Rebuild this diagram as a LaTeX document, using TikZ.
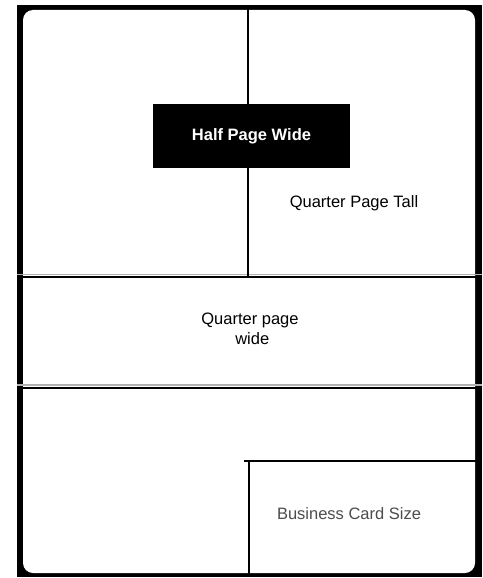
\documentclass[tikz,border=0pt]{standalone}
\usepackage{fontspec}
\setmainfont{Liberation Sans}
\begin{document}
\begin{tikzpicture}[x=1pt,y=-1pt,
  divider/.style={black,line width=2pt},
  label/.style={font=\fontsize{16.5}{19.5}\selectfont,align=center,inner sep=0pt}]
\useasboundingbox (0,0) rectangle (482,578);
\fill[white] (0,0) rectangle (482,578);
% outer frame
\fill[black] (17,5) rectangle (482,577);
\fill[white,rounded corners=10pt] (23,10) rectangle (475,573);
% horizontal dividers
\draw[gray!60,line width=1.2pt] (17,274.5) -- (482,274.5);
\draw[divider] (22,277) -- (476,277);
\draw[gray!60,line width=1.2pt] (17,385) -- (482,385);
\draw[divider] (22,387.5) -- (476,387.5);
% vertical divider top
\draw[divider] (248,9) -- (248,276);
% business card box
\draw[divider] (244,460.5) -- (476,460.5);
\draw[divider] (248.5,460) -- (248.5,574);
% half page wide box
\node[fill=black,minimum width=197pt,minimum height=64pt,inner sep=0pt,
      text=white,font=\fontsize{16.5}{19.5}\selectfont\bfseries] (hpw) at (251.5,136) {Half Page Wide};
% labels
\node[label] (qpt) at (354,203) {Quarter Page Tall};
\node[label] (qpw) at (250,329) {Quarter page\\ \ wide};
\node[label,text=black!70] (bcs) at (349,514) {Business Card Size};
\end{tikzpicture}
\end{document}
